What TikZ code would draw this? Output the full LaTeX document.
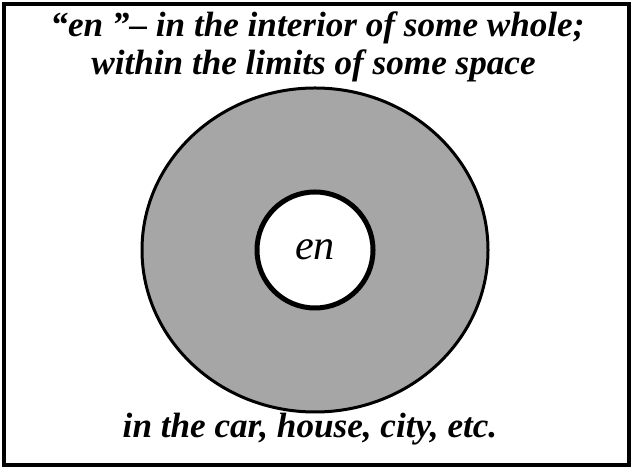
\documentclass[tikz,border=0pt]{standalone}
\usepackage{fontspec}
\setmainfont{Liberation Serif}
\usepackage{xcolor}
\usepackage{tikz}
\definecolor{ENGray}{HTML}{A6A6A6}
\tikzset{
  captext/.style={font=\fontsize{20}{23}\selectfont\bfseries\itshape,inner sep=0pt,anchor=base},
}

\begin{document}
\begin{tikzpicture}[x=1cm,y=1cm]
\path[use as bounding box] (0,0) rectangle (12.62,9.36);
\draw[line width=0.08cm] (0.08,0.05) rectangle (12.58,9.28);
\filldraw[fill=ENGray,line width=0.06cm] (6.30,4.36) ellipse (3.46 and 3.24);
\node[circle,draw,fill=white,line width=0.10cm,minimum size=2.32cm,inner sep=0pt,
  font=\fontsize{24}{28}\selectfont\itshape] (en) at (6.30,4.36) {en};
\node[captext] (top1) at (6.35,8.62) {``en~''--~in the interior of some whole;};
\node[captext] (top2) at (6.27,7.86) {within the limits of some space};
\node[captext] (bottom) at (6.20,0.60) {in the car, house, city, etc.};
\end{tikzpicture}
\end{document}
